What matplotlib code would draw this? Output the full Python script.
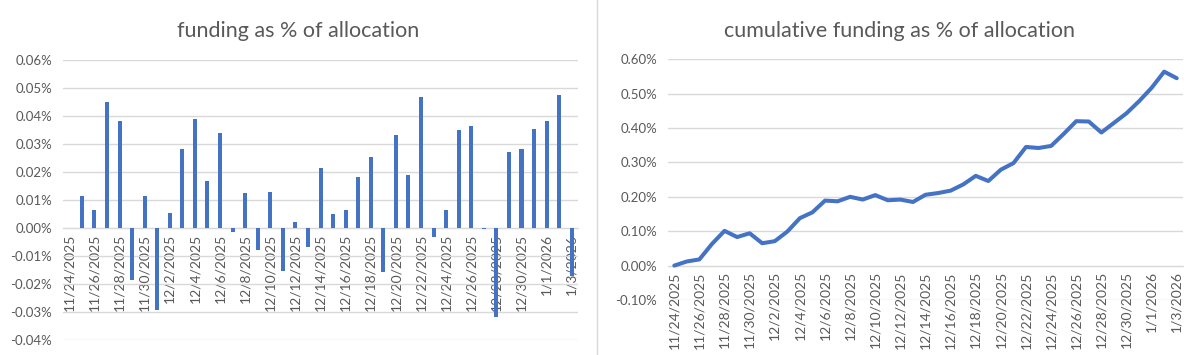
import matplotlib
matplotlib.use("Agg")
import matplotlib.pyplot as plt
from matplotlib.lines import Line2D
import numpy as np
import pandas as pd

# categories: one per day
dates = [f"{d.month}/{d.day}/{d.year}" for d in pd.date_range("2025-11-24", "2026-01-03")]

# daily funding, % of allocation
daily_pct = [0.0, 0.0115, 0.0065, 0.0449, 0.0383, -0.0185, 0.0115,
             -0.0292, 0.0055, 0.0283, 0.0390, 0.0169, 0.0340, -0.0013,
             0.0126, -0.0077, 0.0130, -0.0155, 0.0020, -0.0069, 0.0215,
             0.0049, 0.0065, 0.0181, 0.0255, -0.0158, 0.0333, 0.0190,
             0.0469, -0.0033, 0.0065, 0.0351, 0.0365, -0.0005, -0.0319,
             0.0273, 0.0283, 0.0355, 0.0383, 0.0476, -0.0172]

# cumulative funding, % of allocation
cum_pct = [0.000, 0.012, 0.018, 0.063, 0.101, 0.083, 0.094,
           0.065, 0.071, 0.099, 0.138, 0.155, 0.189, 0.187,
           0.200, 0.192, 0.205, 0.190, 0.192, 0.185, 0.206,
           0.211, 0.218, 0.236, 0.261, 0.246, 0.279, 0.298,
           0.345, 0.342, 0.348, 0.383, 0.420, 0.419, 0.387,
           0.415, 0.443, 0.478, 0.517, 0.564, 0.545]

left_ticks = [-0.04, -0.03, -0.02, -0.01, 0.0, 0.01, 0.02, 0.03, 0.04, 0.05, 0.06]
right_ticks = [-0.10, 0.0, 0.10, 0.20, 0.30, 0.40, 0.50, 0.60]

BLUE = '#4472C4'
GRID = '#D9D9D9'
TEXT = '#595959'

plt.rcParams['font.family'] = ['Lato', 'DejaVu Sans']


def style_axis(ax, ticks):
    x = np.arange(len(dates))
    # move the category axis to zero first (this resets the ticks)
    ax.spines['bottom'].set_position(('data', 0))
    ax.spines['bottom'].set_color(GRID)
    for s in ['top', 'right', 'left']:
        ax.spines[s].set_visible(False)
    ax.set_xlim(-0.5, len(dates) - 0.5)
    ax.set_ylim(ticks[0], ticks[-1])
    ax.set_yticks(ticks)
    ax.set_yticklabels([f"{t:.2f}%" for t in ticks])
    ax.set_xticks(x[::2])
    ax.set_xticklabels(dates[::2])
    ax.tick_params(length=0, labelcolor=TEXT, labelsize=9.5)
    ax.tick_params(axis='x', pad=4, labelrotation=90, labelsize=10)
    ax.tick_params(axis='y', pad=8)
    ax.grid(axis='y', color=GRID, linewidth=1)
    ax.set_axisbelow(True)


fig = plt.figure(figsize=(11.98, 3.55), dpi=100)

ax1 = fig.add_axes([0.0526, 0.0423, 0.4299, 0.7887])
ax1.bar(np.arange(len(dates)), daily_pct, width=0.32, color=BLUE, zorder=3)
style_axis(ax1, left_ticks)

ax2 = fig.add_axes([0.5576, 0.155, 0.4299, 0.678])
ax2.plot(np.arange(len(dates)), cum_pct, color=BLUE, linewidth=2.9,
         solid_capstyle='round', solid_joinstyle='round', zorder=3)
style_axis(ax2, right_ticks)

# chart titles, centred over each chart area
fig.text(0.249, 0.896, 'funding as % of allocation', color=TEXT,
         fontsize=15.5, ha='center', va='baseline')
fig.text(0.751, 0.896, 'cumulative funding as % of allocation', color=TEXT,
         fontsize=15.5, ha='center', va='baseline')

# divider between the two charts
fig.add_artist(Line2D([0.4987, 0.4987], [0, 1], color=GRID, linewidth=1))

fig.savefig('out.png', dpi=100)
